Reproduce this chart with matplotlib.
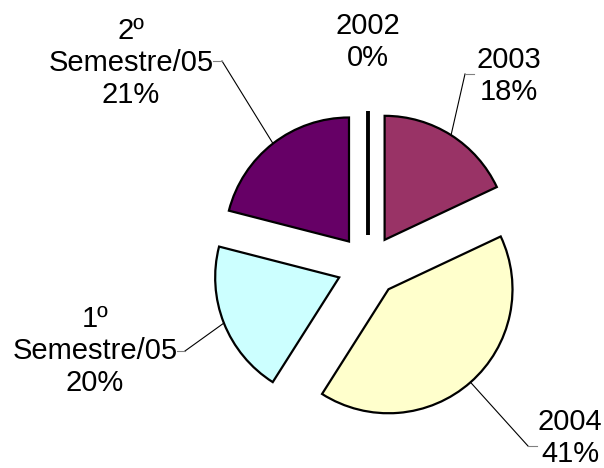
import numpy as np
import matplotlib
matplotlib.use('Agg')
import matplotlib.pyplot as plt

# Data
labels = ['2002', '2003', '2004', '1º\nSemestre/05', '2º\nSemestre/05']
values = [0, 18, 41, 20, 21]
colors = ['#FFFFFF', '#993366', '#FFFFCC', '#CCFFFF', '#660066']

plt.rcParams['font.family'] = ['Liberation Sans', 'DejaVu Sans']

W, H = 604, 468
fig = plt.figure(figsize=(W / 100, H / 100), dpi=100)
ax = fig.add_axes([0, 0, 1, 1])

# pie geometry in pixel units (y measured upwards)
cx, cy, r = 368, H - 266, 124
wedges, _ = ax.pie(values, colors=colors, startangle=90, counterclock=False,
                   explode=[31] * len(values), radius=r, center=(cx, cy),
                   wedgeprops=dict(edgecolor='black', linewidth=1.6),
                   frame=True)
ax.set_xlim(0, W)
ax.set_ylim(0, H)
ax.set_aspect('equal')
ax.axis('off')

# zero-width slices: agg strokes them hollow, so draw their edge as a line
for w in wedges:
    if abs(w.theta2 - w.theta1) < 1e-9:
        w.set_linewidth(0)
        a = np.deg2rad(w.theta1)
        ax.plot([w.center[0], w.center[0] + w.r * np.cos(a)],
                [w.center[1], w.center[1] + w.r * np.sin(a)],
                color='black', lw=2.8, solid_capstyle='butt')

# label positions (image coords) and leader elbows
label_pos = [(368, 42), (509, 76), (570, 438), (95, 351), (131, 63)]
elbows = [None, ((465, 74), (474, 74)), ((528, 446), (537, 446)),
          ((185, 351), (177, 351)), ((222, 61), (213, 61))]

total = sum(values)
for w, lab, v, pos, elb in zip(wedges, labels, values, label_pos, elbows):
    pct = '%d%%' % round(100 * v / total)
    ax.text(pos[0], H - pos[1], lab + '\n' + pct, ha='center', va='center',
            fontsize=21, linespacing=1.18)
    if elb is None:
        continue
    mid = np.deg2rad((w.theta1 + w.theta2) / 2)
    ax_x = w.center[0] + w.r * np.cos(mid)
    ax_y = w.center[1] + w.r * np.sin(mid)
    (ex, ey), (tx, ty) = elb
    ax.plot([ax_x, ex], [ax_y, H - ey], color='black', lw=0.8)
    ax.plot([ex, tx], [H - ey, H - ty], color='#808080', lw=0.8)

fig.savefig('out.png', dpi=100)
